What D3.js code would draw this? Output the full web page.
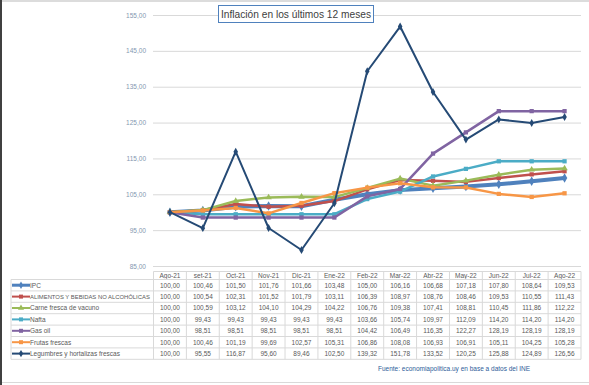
<!DOCTYPE html>
<html>
<head>
<meta charset="utf-8">
<script src="https://cdn.jsdelivr.net/npm/d3@7"></script>
<style>
  body { margin: 0; background: #fff; }
  svg { display: block; font-family: "Liberation Sans", Arial, sans-serif; }
</style>
</head>
<body>
<svg id="chart" width="589" height="385"></svg>
<script>
var months = ['Ago-21', 'set-21', 'Oct-21', 'Nov-21', 'Dic-21', 'Ene-22', 'Feb-22',
  'Mar-22', 'Abr-22', 'May-22', 'Jun-22', 'Jul-22', 'Ago-22'];

var seriesNames = ['IPC', 'ALIMENTOS Y BEBIDAS NO ALCOHÓLICAS', 'Carne fresca de vacuno',
  'Nafta', 'Gas oil', 'Frutas frescas', 'Legumbres y hortalizas frescas'];

var ipc = [100.00, 100.46, 101.50, 101.76, 101.66, 103.48, 105.00, 106.16, 106.68, 107.18, 107.80, 108.64, 109.53];
var alimentos = [100.00, 100.54, 102.31, 101.52, 101.79, 103.11, 106.39, 108.97, 108.76, 108.46, 109.53, 110.55, 111.43];
var carne = [100.00, 100.59, 103.12, 104.10, 104.29, 104.22, 106.76, 109.38, 107.41, 108.81, 110.45, 111.86, 112.22];
var nafta = [100.00, 99.43, 99.43, 99.43, 99.43, 99.43, 103.66, 105.74, 109.97, 112.09, 114.20, 114.20, 114.20];
var gasoil = [100.00, 98.51, 98.51, 98.51, 98.51, 98.51, 104.42, 106.49, 116.35, 122.27, 128.19, 128.19, 128.19];
var frutas = [100.00, 100.46, 101.19, 99.69, 102.57, 105.31, 106.86, 108.08, 106.93, 106.91, 105.11, 104.25, 105.28];
var legumbres = [100.00, 95.55, 116.87, 95.60, 89.46, 102.50, 139.32, 151.78, 133.52, 120.25, 125.88, 124.89, 126.56];

var yTicks = [85, 95, 105, 115, 125, 135, 145, 155];

var allValues = [ipc, alimentos, carne, nafta, gasoil, frutas, legumbres];
var colors = ['#4F81BD', '#C0504D', '#9BBB59', '#4BACC6', '#8064A2', '#F79646', '#254A75'];
var widths = [4, 2.5, 2.5, 2.5, 2.5, 2.5, 2];
var symbols = [d3.symbolDiamond, d3.symbolSquare, d3.symbolTriangle, d3.symbolSquare,
  d3.symbolSquare, d3.symbolSquare, d3.symbolDiamond];

var series = seriesNames.map(function(name, i) {
  return {name: name, values: allValues[i], color: colors[i], width: widths[i], symbol: symbols[i]};
});

var svg = d3.select('#chart');
var fmt = function(v) { return d3.format('.2f')(v).replace('.', ','); };

// frame
svg.append('line').attr('x1', 1).attr('x2', 1).attr('y1', 0).attr('y2', 385)
  .attr('stroke', '#404040').attr('stroke-width', 2);
svg.append('line').attr('x1', 2).attr('x2', 589).attr('y1', 1).attr('y2', 1)
  .attr('stroke', '#d0d0d0').attr('stroke-width', 1.5);
svg.append('line').attr('x1', 2).attr('x2', 589).attr('y1', 382.5).attr('y2', 382.5)
  .attr('stroke', '#d9d9d9').attr('stroke-width', 1);

var x = d3.scaleBand().domain(months).range([153.5, 581]).padding(0);
var xc = function(m) { return x(m) + x.bandwidth() / 2; };
var y = d3.scaleLinear().domain([85, 155]).range([266, 15]);

// gridlines + y labels
var yAxis = d3.axisLeft(y).tickValues(yTicks).tickFormat(fmt).tickSize(-(581 - 153)).tickPadding(7);
var gy = svg.append('g').attr('transform', 'translate(153,0)').call(yAxis);
gy.select('.domain').remove();
gy.selectAll('.tick line').attr('stroke', '#d9d9d9').attr('stroke-width', 1);
gy.selectAll('.tick text').attr('fill', '#8497B0').attr('font-size', 6.5);

// lines
var line = d3.line()
  .x(function(d, i) { return xc(months[i]); })
  .y(function(d) { return y(d); });

series.forEach(function(s) {
  svg.append('path').datum(s.values)
    .attr('d', line)
    .attr('fill', 'none')
    .attr('stroke', s.color)
    .attr('stroke-width', s.width)
    .attr('stroke-linejoin', 'round');
  svg.selectAll(null).data(s.values).enter().append('path')
    .attr('d', d3.symbol().type(s.symbol).size(s.width > 3 ? 26 : 18))
    .attr('transform', function(d, i) { return 'translate(' + xc(months[i]) + ',' + y(d) + ')'; })
    .attr('fill', s.color);
});

// title
var tg = svg.append('g');
tg.append('rect').attr('x', 218.5).attr('y', 5.5).attr('width', 155).attr('height', 17)
  .attr('fill', '#fff').attr('stroke', '#4F81BD').attr('stroke-width', 1);
tg.append('text').attr('x', 296).attr('y', 17.8).attr('text-anchor', 'middle')
  .attr('font-size', 10.5).attr('fill', '#404040')
  .attr('textLength', 150).attr('lengthAdjust', 'spacingAndGlyphs')
  .text('Inflación en los últimos 12 meses');

// data table
var headerTop = 271.5, headerH = 8, rowH = 11.4;
var labelLeft = 11, tableRight = 581;
var grid = '#d9d9d9', tcol = '#595959';
var tbl = svg.append('g');

// header row
tbl.append('line').attr('x1', 153.5).attr('x2', tableRight).attr('y1', headerTop).attr('y2', headerTop)
  .attr('stroke', grid);
tbl.selectAll('.hdr').data(months).enter().append('text')
  .attr('x', function(m) { return xc(m); })
  .attr('y', headerTop + 6.5)
  .attr('text-anchor', 'middle').attr('font-size', 6.5).attr('fill', tcol)
  .text(function(m) { return m; });

var rowsTop = headerTop + headerH;
for (var r = 0; r <= series.length; r++) {
  tbl.append('line').attr('x1', labelLeft).attr('x2', tableRight)
    .attr('y1', rowsTop + r * rowH).attr('y2', rowsTop + r * rowH).attr('stroke', grid);
}
// vertical borders
tbl.append('line').attr('x1', labelLeft).attr('x2', labelLeft)
  .attr('y1', rowsTop).attr('y2', rowsTop + series.length * rowH).attr('stroke', grid);
months.concat(['end']).forEach(function(m, i) {
  var xx = i < months.length ? x(m) : tableRight;
  tbl.append('line').attr('x1', xx).attr('x2', xx)
    .attr('y1', headerTop).attr('y2', rowsTop + series.length * rowH).attr('stroke', grid);
});

series.forEach(function(s, r) {
  var cy = rowsTop + r * rowH + rowH / 2;
  tbl.append('line').attr('x1', labelLeft + 1).attr('x2', labelLeft + 19)
    .attr('y1', cy).attr('y2', cy).attr('stroke', s.color).attr('stroke-width', s.width > 3 ? 3 : 2);
  tbl.append('path').attr('d', d3.symbol().type(s.symbol).size(16)())
    .attr('transform', 'translate(' + (labelLeft + 10) + ',' + cy + ')').attr('fill', s.color);
  var lbl = tbl.append('text').attr('x', labelLeft + 19).attr('y', cy + 2.3)
    .attr('font-size', 6.5).attr('fill', tcol).text(s.name);
  var len = lbl.node().getComputedTextLength();
  if (len > 120) {
    lbl.attr('font-size', (6.5 * 120 / len).toFixed(2));
  }
  tbl.selectAll(null).data(s.values).enter().append('text')
    .attr('x', function(d, i) { return xc(months[i]); })
    .attr('y', cy + 2.3)
    .attr('text-anchor', 'middle').attr('font-size', 6.5).attr('fill', tcol)
    .text(fmt);
});

// source
svg.append('text').attr('x', 454).attr('y', 371).attr('text-anchor', 'middle')
  .attr('font-size', 6.5).attr('fill', '#2E5C99')
  .text('Fuente: economiapolitica.uy en base a datos del INE');
</script>
</body>
</html>
